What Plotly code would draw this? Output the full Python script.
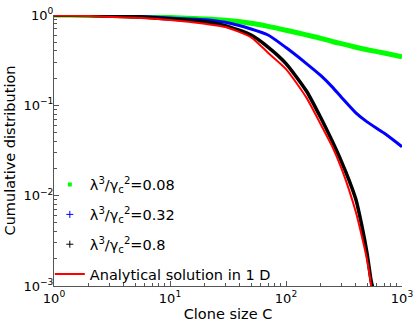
import plotly.graph_objects as go

# clone sizes and cumulative distributions
c_green = [1, 2, 5, 10, 20, 30, 50, 70, 100, 150, 200, 250, 300, 400, 500, 700, 1000]
p_green = [1.0, 0.995, 0.975, 0.938, 0.903, 0.874, 0.809, 0.749, 0.679, 0.602,
           0.552, 0.509, 0.482, 0.440, 0.413, 0.379, 0.345]

c_blue = [1, 2, 5, 10, 20, 30, 50, 70, 100, 150, 200, 250, 300, 400, 500, 700, 1000]
p_blue = [1.0, 0.992, 0.967, 0.926, 0.887, 0.830, 0.700, 0.600, 0.436, 0.290,
          0.213, 0.160, 0.123, 0.0826, 0.0656, 0.0493, 0.0348]

c_black = [1, 2, 5, 10, 20, 30, 50, 70, 100, 150, 200, 250, 300, 350, 400, 450,
           500, 520, 540, 560]
p_black = [1.0, 0.987, 0.955, 0.903, 0.843, 0.761, 0.600, 0.442, 0.290, 0.144,
           0.0723, 0.0402, 0.024, 0.0148, 0.00912, 0.00468, 0.00229, 0.00162,
           0.00117, 0.00095]

c_red = [1, 2, 5, 10, 20, 30, 50, 70, 100, 150, 200, 250, 300, 350, 400, 450,
         500, 540, 550]
p_red = [0.99, 0.972, 0.93, 0.88, 0.80, 0.736, 0.566, 0.382, 0.252, 0.1217,
         0.061, 0.0351, 0.0202, 0.01153, 0.00658, 0.00357, 0.00194, 0.00102,
         0.0007]

labels = ["λ<sup>3</sup>/γ<sub>c</sub><sup>2</sup>=0.08",
          "λ<sup>3</sup>/γ<sub>c</sub><sup>2</sup>=0.32",
          "λ<sup>3</sup>/γ<sub>c</sub><sup>2</sup>=0.8",
          "Analytical solution in 1 D"]

x_ticks = [1, 10, 100, 1000]
x_ticktext = ["10<sup>0</sup>", "10<sup>1</sup>", "10<sup>2</sup>", "10<sup>3</sup>"]
y_ticks = [0.001, 0.01, 0.1, 1]
y_ticktext = ["10<sup>−3</sup>", "10<sup>−2</sup>", "10<sup>−1</sup>", "10<sup>0</sup>"]

fig = go.Figure()

# legend entries (markers only, as in the original)
fig.add_trace(go.Scatter(x=[None], y=[None], mode="markers", name=labels[0],
                         legendgroup="g1",
                         marker=dict(symbol="square", size=4, color="#00ff00")))
fig.add_trace(go.Scatter(x=[None], y=[None], mode="markers", name=labels[1],
                         legendgroup="g2",
                         marker=dict(symbol="cross-thin", size=5, color="#0000ff",
                                     line=dict(width=1, color="#0000ff"))))
fig.add_trace(go.Scatter(x=[None], y=[None], mode="markers", name=labels[2],
                         legendgroup="g3",
                         marker=dict(symbol="cross-thin", size=5, color="#000000",
                                     line=dict(width=1, color="#000000"))))

# simulated curves
fig.add_trace(go.Scatter(x=c_green, y=p_green, mode="lines", showlegend=False,
                         line=dict(color="#00ff00", width=5, shape="spline",
                                   smoothing=0.6)))
fig.add_trace(go.Scatter(x=c_blue, y=p_blue, mode="lines", showlegend=False,
                         line=dict(color="#0000ff", width=3, shape="spline",
                                   smoothing=0.6)))
fig.add_trace(go.Scatter(x=c_black, y=p_black, mode="lines", showlegend=False,
                         line=dict(color="#000000", width=3.5, shape="spline",
                                   smoothing=0.6)))

# analytical solution
fig.add_trace(go.Scatter(x=c_red, y=p_red, mode="lines", name=labels[3],
                         legendgroup="g4",
                         line=dict(color="#ff0000", width=2, shape="spline",
                                   smoothing=0.6)))

axis_common = dict(
    type="log",
    tickmode="array",
    ticks="inside",
    ticklen=5,
    tickcolor="#555555",
    showline=True,
    linecolor="#555555",
    linewidth=1,
    showgrid=False,
    zeroline=False,
    mirror=False,
    automargin=False,
    tickfont=dict(family="DejaVu Sans", size=13, color="black"),
    minor=dict(ticks="inside", ticklen=3, tickcolor="#555555", dtick="D1",
               showgrid=False),
)

fig.update_xaxes(range=[0, 3], tickvals=x_ticks, ticktext=x_ticktext,
                 title=dict(text="Clone size C", standoff=4,
                            font=dict(family="DejaVu Sans", size=14.5, color="black")),
                 **axis_common)
fig.update_yaxes(range=[-3, 0], tickvals=y_ticks, ticktext=y_ticktext,
                 ticklabelstandoff=-3,
                 title=dict(text="Cumulative distribution", standoff=4,
                            font=dict(family="DejaVu Sans", size=14.5, color="black")),
                 **axis_common)

fig.update_layout(
    width=415,
    height=327,
    margin=dict(l=54, r=13, t=15, b=41),
    paper_bgcolor="white",
    plot_bgcolor="white",
    showlegend=True,
    legend=dict(x=-0.012, y=-0.017, xanchor="left", yanchor="bottom",
                bgcolor="rgba(255,255,255,0)", borderwidth=0,
                itemwidth=30, traceorder="grouped", tracegroupgap=8,
                font=dict(family="DejaVu Sans", size=14.5, color="black")),
)

# drop the default page margin so the figure sits at the window's corner
fig.write_html("out.html", config={"displayModeBar": False},
               post_script="document.body.style.margin = '0px';")
